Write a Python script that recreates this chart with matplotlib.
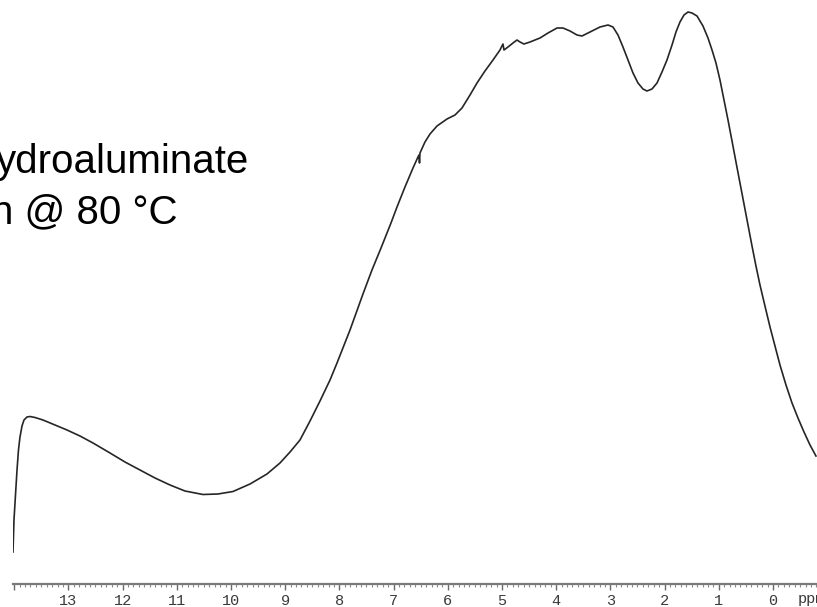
import numpy as np
import matplotlib

matplotlib.use('Agg')
import matplotlib.pyplot as plt
from matplotlib.ticker import MultipleLocator, FixedLocator, FixedFormatter

# ------------------------------------------------------------
# data (ppm, arbitrary intensity)
# ------------------------------------------------------------
ppm = [14.022, 14.004, 13.976, 13.948, 13.921, 13.893, 13.856, 13.819, 13.764, 13.708,
       13.616, 13.469, 13.247, 13.026, 12.786, 12.546, 12.232, 11.956, 11.679, 11.402,
       11.125, 10.849, 10.517, 10.240, 9.963, 9.649, 9.336, 9.096, 8.911, 8.727,
       8.542, 8.358, 8.173, 8.044, 7.804, 7.565, 7.399, 7.232, 7.048, 6.937,
       6.790, 6.642, 6.550, 6.531, 6.522, 6.513, 6.421, 6.328, 6.199, 6.015,
       5.867, 5.738, 5.590, 5.461, 5.314, 5.166, 5.037, 4.982, 4.963, 4.889,
       4.797, 4.723, 4.668, 4.594, 4.483, 4.299, 4.151, 3.985, 3.875, 3.745,
       3.616, 3.524, 3.376, 3.192, 3.044, 2.952, 2.860, 2.768, 2.675, 2.583,
       2.491, 2.399, 2.325, 2.232, 2.140, 2.048, 1.956, 1.863, 1.790, 1.716,
       1.642, 1.568, 1.494, 1.402, 1.292, 1.199, 1.125, 1.052, 0.978, 0.904,
       0.830, 0.756, 0.683, 0.609, 0.535, 0.461, 0.387, 0.314, 0.240, 0.148,
       0.055, -0.037, -0.129, -0.240, -0.351, -0.461, -0.572, -0.683, -0.793]
intensity = [32, 64, 89, 114, 134, 147, 158, 164, 167, 167.5,
             166.5, 164, 159, 154, 148, 141, 131, 122, 114, 106,
             99, 93, 89.5, 90, 92.5, 100, 110, 121, 132, 144,
             163, 183, 204, 221, 254, 290, 314, 336, 361, 377,
             397, 416, 427, 429, 421, 431, 442, 450, 458, 465,
             469, 476, 489, 501, 513, 524, 534, 540, 534, 537,
             541, 544, 542, 540, 542, 546, 551, 556, 556, 553,
             549, 548, 552, 557, 559, 557, 549, 537, 524, 511,
             501, 495, 493, 495, 501, 512, 524, 539, 552, 562,
             569, 572, 571, 568, 558, 546, 534, 521, 504, 484,
             464, 443, 422, 401, 380, 359, 338, 318, 299, 278,
             257, 238, 219, 199, 181, 166, 152, 139, 128]

major_ticks = list(range(0, 15))
tick_labels = [str(t) for t in range(0, 14)] + ['']
label_lines = ['ydroaluminate', 'n @ 80 °C']

# ============================================================
# figure
# ============================================================
W, H = 817, 607
fig = plt.figure(figsize=(W / 100, H / 100), dpi=100)
ax = fig.add_axes([13 / W, 23 / H, (W - 13) / W, 584 / H])

ax.plot(ppm, intensity, color='#262626', linewidth=1.2)

ax.set_xlim(14.022, -0.812)
ax.set_ylim(0, 584)

for s in ['top', 'right', 'left']:
    ax.spines[s].set_visible(False)
ax.spines['bottom'].set_color('#7a7a7a')
ax.spines['bottom'].set_linewidth(1.6)

ax.xaxis.set_major_locator(FixedLocator(major_ticks))
ax.xaxis.set_major_formatter(FixedFormatter(tick_labels))
ax.xaxis.set_minor_locator(MultipleLocator(0.1))
ax.tick_params(axis='x', which='major', direction='out', length=4.5, width=1.0,
               color='#6a6a6a', pad=3, labelsize=11, labelcolor='#3a3a3a')
ax.tick_params(axis='x', which='minor', direction='out', length=2, width=0.8,
               color='#8a8a8a')
ax.set_yticks([])
for lbl in ax.get_xticklabels():
    lbl.set_family('Liberation Mono')

# axis unit, cut at the right edge like the original
ax.text(-0.46, -0.014, 'ppm', transform=ax.get_xaxis_transform(), ha='left', va='top',
        fontsize=11, family='Liberation Mono', color='#3a3a3a', clip_on=False)

# label text (cut at left edge in the original)
fig.text(249 / W, 1 - 173 / H, label_lines[0], ha='right', va='baseline',
         fontsize=29, family='Liberation Sans', color='black')
fig.text(178 / W, 1 - 223 / H, label_lines[1], ha='right', va='baseline',
         fontsize=29, family='Liberation Sans', color='black')

plt.savefig('out.png', dpi=100)
